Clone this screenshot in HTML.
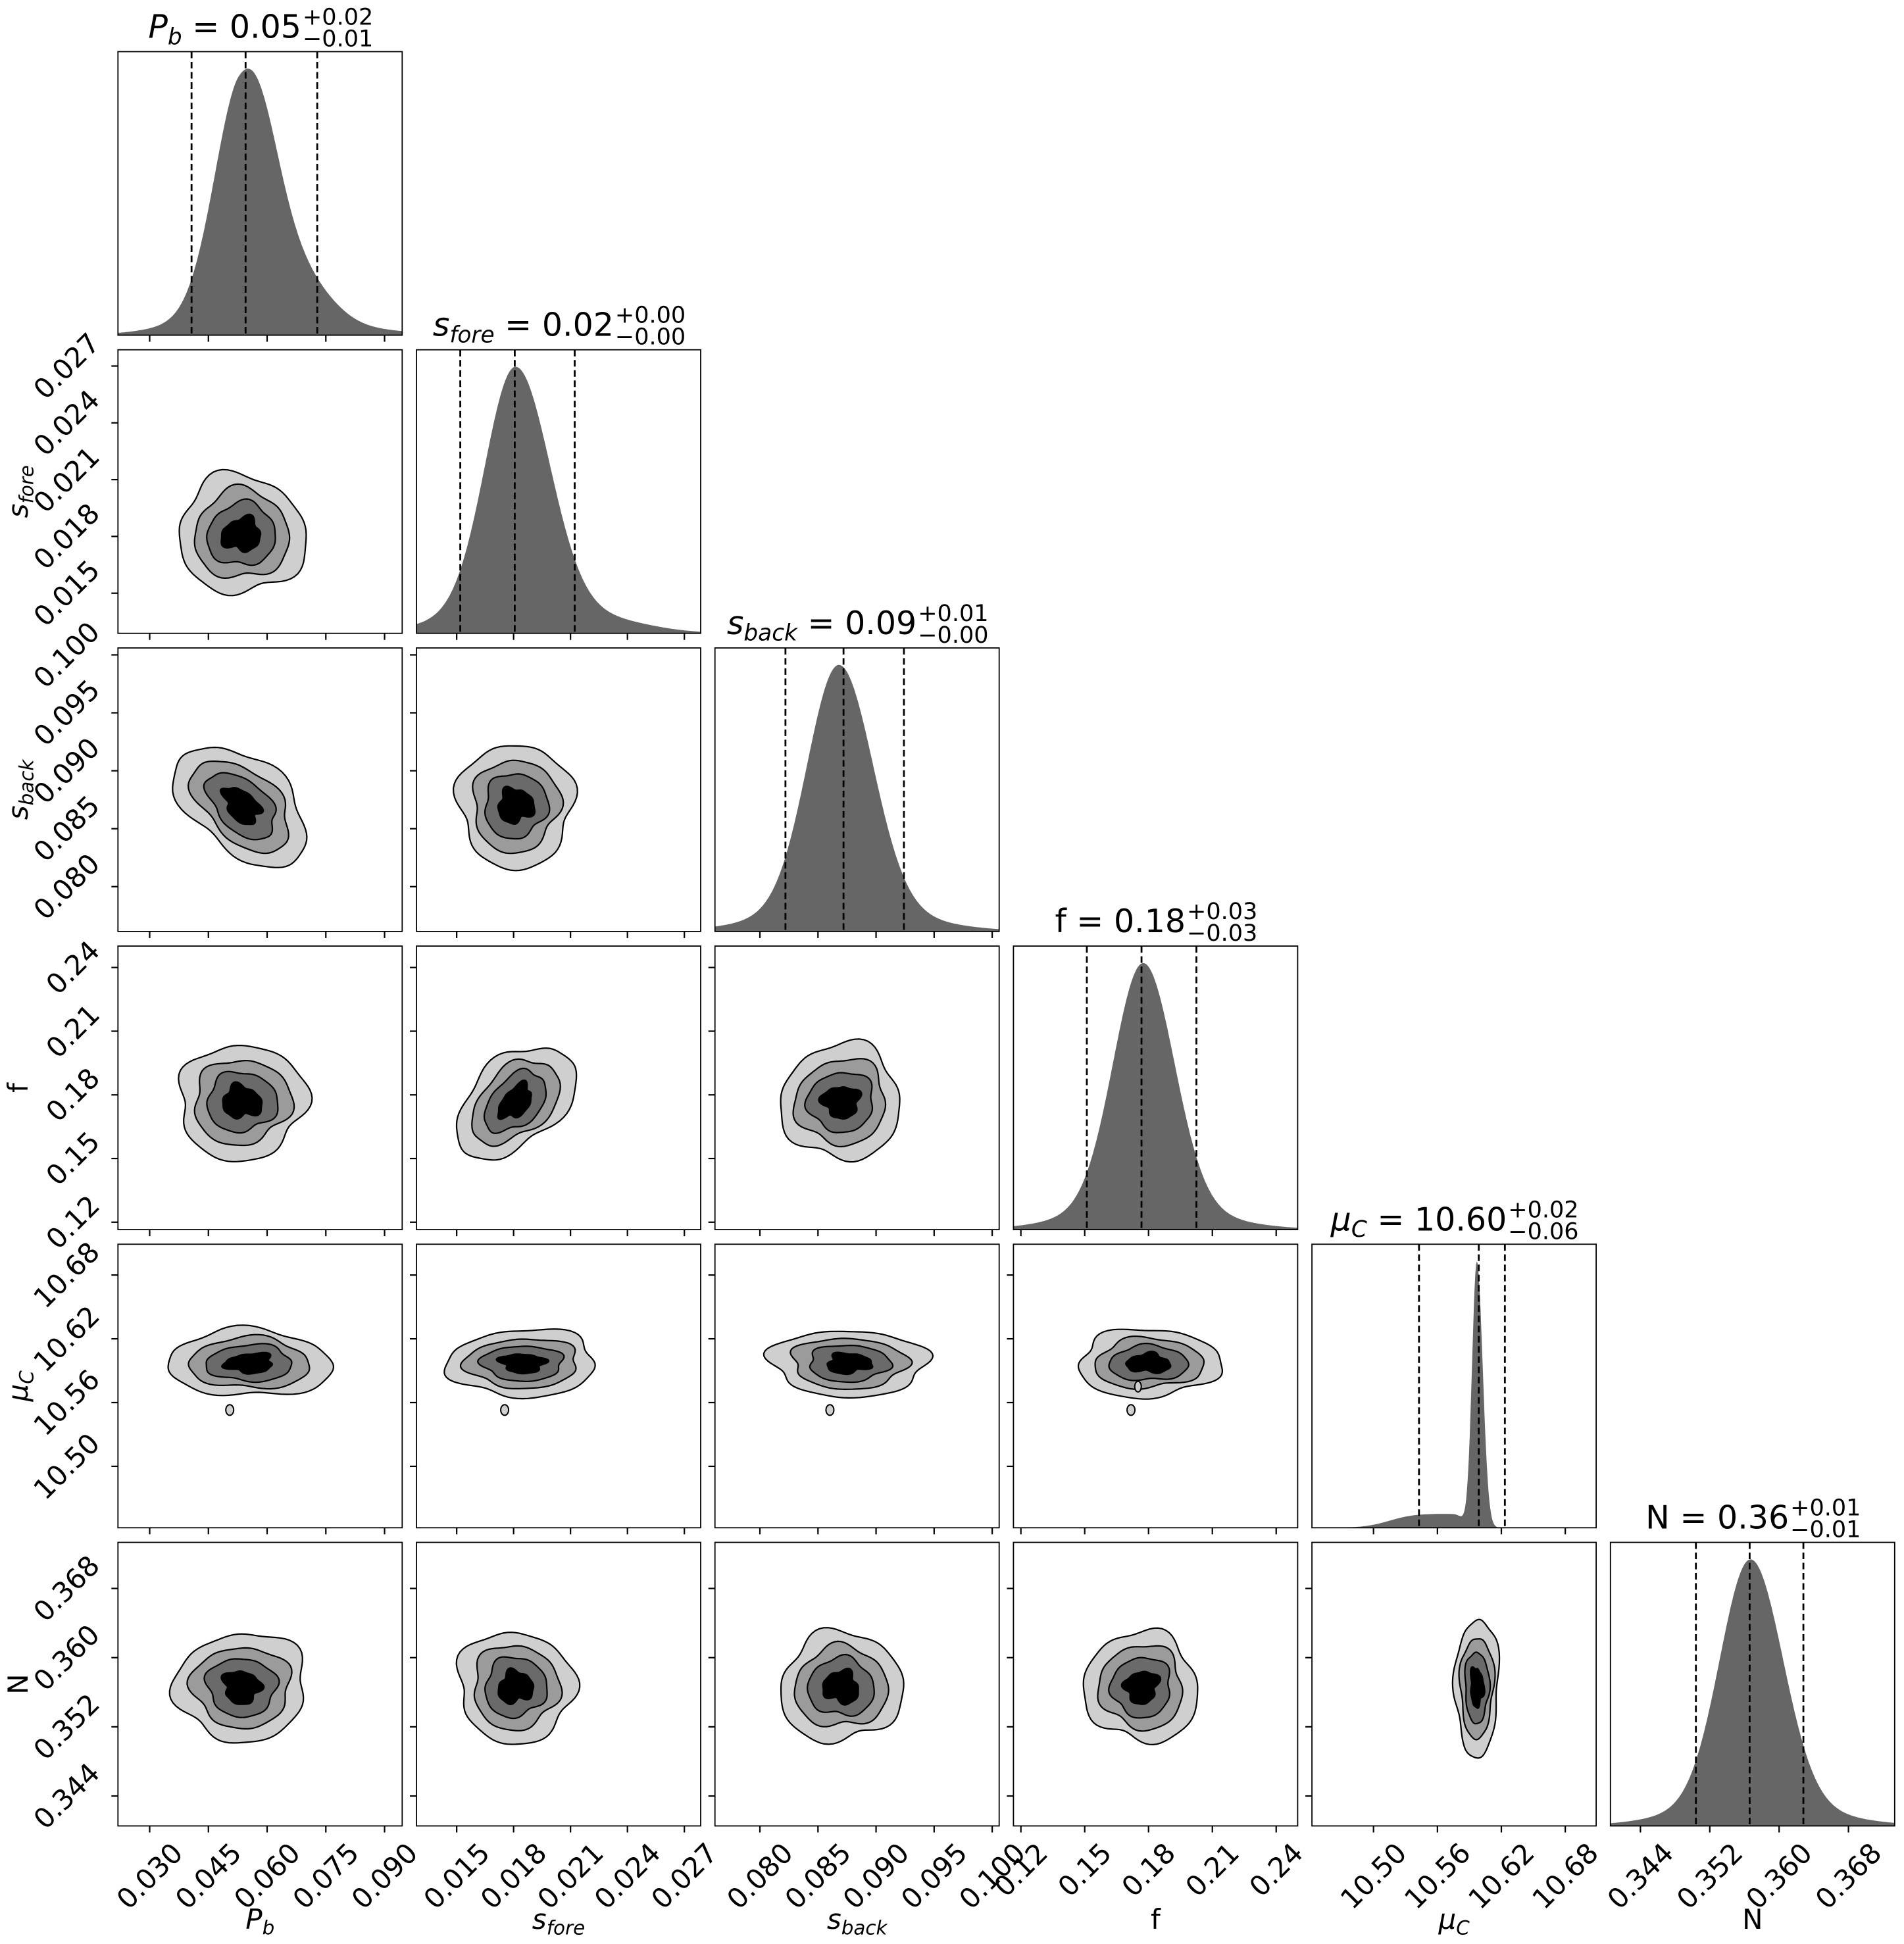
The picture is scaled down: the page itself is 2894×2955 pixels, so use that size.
<!DOCTYPE html>
<html><head><meta charset="utf-8">
<style>
html,body{margin:0;padding:0;background:#fff;}
svg{display:block;}
text{font-family:"DejaVu Sans","Liberation Sans",sans-serif;fill:#000;}
</style></head>
<body>
<svg id="s" xmlns="http://www.w3.org/2000/svg" width="2894" height="2955" viewBox="0 0 2894 2955"></svg>
<script>
(function(){
var NS="http://www.w3.org/2000/svg";
var S=document.getElementById('s');
function el(t,a,parent,txt){var e=document.createElementNS(NS,t);for(var k in a)e.setAttribute(k,a[k]);if(txt!==undefined)e.textContent=txt;(parent||S).appendChild(e);return e;}
var X0=179.3,DX=453.7,Y0=78.5,DY=453.2,W=432,H=431;
function G(x,m,s){return Math.exp(-0.5*(x-m)*(x-m)/(s*s));}
function SP(x,m,sl,sr){return G(x,m,x<m?sl:sr);}
function H2(x,m,sl,sr){return SP(x,m,sl,sr)+0.1*SP(x,m,sl*2.2,sr*2.2);}
var P=[
{min:0.0219,max:0.0945,ticks:[0.030,0.045,0.060,0.075,0.090],dec:3,m:0.0535,s:0.016,q:[0.0407,0.0545,0.0728],
 pdf:function(x){return H2(x,0.0527,0.0067,0.0105)+0.25*G(x,0.0575,0.005)+0.05*G(x,0.074,0.006);}},
{min:0.01288,max:0.02786,ticks:[0.015,0.018,0.021,0.024,0.027],dec:3,m:0.0181,s:0.003,q:[0.01519,0.01806,0.02122],
 pdf:function(x){return H2(x,0.0181,0.0016,0.0018)+0.02*G(x,0.0235,0.002);}},
{min:0.07613,max:0.1006,ticks:[0.080,0.085,0.090,0.095,0.100],dec:3,m:0.0870,s:0.0051,q:[0.0822,0.0872,0.0924],
 pdf:function(x){return H2(x,0.0868,0.0027,0.0029);}},
{min:0.1165,max:0.2501,ticks:[0.12,0.15,0.18,0.21,0.24],dec:2,m:0.1767,s:0.026,q:[0.151,0.1767,0.2025],
 pdf:function(x){return H2(x,0.1775,0.014,0.0145);}},
{min:10.4422,max:10.709,ticks:[10.50,10.56,10.62,10.68],dec:2,m:10.597,s:0.0192,q:[10.5427,10.5988,10.6233],
 pdf:function(x){return SP(x,10.597,0.0045,0.0055)+0.05*SP(x,10.575,0.035,0.01)+0.02*G(x,10.53,0.02);}},
{min:0.34054,max:0.37333,ticks:[0.344,0.352,0.360,0.368],dec:3,m:0.3566,s:0.0062,q:[0.3504,0.3566,0.3628],
 pdf:function(x){return H2(x,0.3567,0.0035,0.0037);}}
];
function L(i){return X0+i*DX;}
function T(j){return Y0+j*DY;}
function xv(i,v){var p=P[i];return L(i)+(v-p.min)/(p.max-p.min)*W;}
function yv(j,i,v){var p=P[i];return T(j)+H-(v-p.min)/(p.max-p.min)*H;}
var corr={"0,2":-0.45,"1,3":0.45};
var cols=["#cfcfcf","#9b9b9b","#6a6a6a","#000000"];
var radii=[1.03,0.77,0.55,0.3];
var clipId=0;
function blob(cx,cy,sx,sy,rho,r,seed,amp){
  var d="";for(var k=0;k<96;k++){var th=2*Math.PI*k/96;
    var w=1+amp*(0.06*Math.sin(3*th+seed)+0.045*Math.sin(5*th+2*seed)+0.03*Math.sin(7*th+3*seed)+0.025*Math.sin(2*th+seed*1.7));
    var u=r*w*Math.cos(th),v=r*w*Math.sin(th);
    var dx=sx*u,dy=sy*(rho*u+Math.sqrt(1-rho*rho)*v);
    d+=(k?"L":"M")+(cx+dx).toFixed(1)+","+(cy-dy).toFixed(1);}
  return d+"Z";}
var FS=42;
for(var j=0;j<6;j++){for(var i=0;i<=j;i++){
  var x0=L(i),y0=T(j);
  var cid="c"+(clipId++);
  var cp=el("clipPath",{id:cid});el("rect",{x:x0,y:y0,width:W,height:H},cp);
  var g=el("g",{"clip-path":"url(#"+cid+")"});
  if(i==j){
    var p=P[i],n=400,vals=[],mx=0;
    for(var k=0;k<=n;k++){var v=p.min+(p.max-p.min)*k/n;var y=p.pdf(v);vals.push(y);if(y>mx)mx=y;}
    var d="M"+x0+","+(y0+H);
    for(var k=0;k<=n;k++){d+="L"+(x0+W*k/n).toFixed(1)+","+(y0+H-vals[k]/mx*0.94*H).toFixed(1);}
    d+="L"+(x0+W)+","+(y0+H)+"Z";
    el("path",{d:d,fill:"#666666"},g);
    p.q.forEach(function(q){var xx=xv(i,q);el("line",{x1:xx,y1:y0,x2:xx,y2:y0+H,stroke:"#000","stroke-width":2.8,"stroke-dasharray":"10,5.5"},g);});
  } else {
    var px=P[i],py=P[j];
    var cx=xv(i,px.m),cy=yv(j,j,py.m);
    var sx=px.s/(px.max-px.min)*W,sy=py.s/(py.max-py.min)*H;
    if(j==4){sx*=1.27;cx+=0.1*sx;sy*=1.6;}
    if(i==4){sy*=1.24;sx=0.0155/(px.max-px.min)*W*1.3;}
    var rho=corr[i+","+j]||0;
    var seed=i*1.7+j*2.3;
    for(var r=0;r<4;r++){
      el("path",{d:blob(cx,cy,sx,sy,rho,radii[r],seed+r*0.6,r==3?2.0:1),fill:cols[r],stroke:"#000","stroke-width":2.2,"stroke-linejoin":"round"},g);
    }
    if(j==4){
      var iy=yv(4,4,10.553);
      el("ellipse",{cx:cx-0.25*sx,cy:iy,rx:6,ry:8,fill:cols[0],stroke:"#000","stroke-width":2},g);
      if(i==3)el("ellipse",{cx:cx-0.15*sx,cy:yv(4,4,10.575),rx:5,ry:8,fill:cols[0],stroke:"#000","stroke-width":2},g);
    }
  }
  el("rect",{x:x0,y:y0,width:W,height:H,fill:"none",stroke:"#000","stroke-width":1.8});
  P[i].ticks.forEach(function(t){var xx=xv(i,t);el("line",{x1:xx,y1:y0+H,x2:xx,y2:y0+H+10,stroke:"#000","stroke-width":2.2});
    if(j==5){
      var tx=el("text",{"font-size":FS,"text-anchor":"middle","dominant-baseline":"central"},S,t.toFixed(P[i].dec));
      var len=tx.getComputedTextLength();var hb=(len+FS*0.78)*0.7071;
      var cxx=xx,cyy=y0+H+22+hb/2;
      tx.setAttribute("x",cxx);tx.setAttribute("y",cyy);tx.setAttribute("transform","rotate(-45 "+cxx+" "+cyy+")");
    }});
  if(i<j){
    P[j].ticks.forEach(function(t){var yy=yv(j,j,t);el("line",{x1:x0-10,y1:yy,x2:x0,y2:yy,stroke:"#000","stroke-width":2.2});
      if(i==0){
        var tx=el("text",{"font-size":FS,"text-anchor":"middle","dominant-baseline":"central"},S,t.toFixed(P[j].dec));
        var len=tx.getComputedTextLength();var wb=(len+FS*0.78)*0.7071;
        var cxx=x0-24-wb/2,cyy=yy;
        tx.setAttribute("x",cxx);tx.setAttribute("y",cyy);tx.setAttribute("transform","rotate(-45 "+cxx+" "+cyy+")");
      }});
  }
}}
var titles=[
 {sym:["P","b"],val:"0.05",sup:"+0.02",sub:"\u22120.01"},
 {sym:["s","fore"],val:"0.02",sup:"+0.00",sub:"\u22120.00"},
 {sym:["s","back"],val:"0.09",sup:"+0.01",sub:"\u22120.00"},
 {plain:"f",val:"0.18",sup:"+0.03",sub:"\u22120.03"},
 {sym:["\u03bc","C"],val:"10.60",sup:"+0.02",sub:"\u22120.06"},
 {plain:"N",val:"0.36",sup:"+0.01",sub:"\u22120.01"}
];
function labelText(t,fs,parent,attrs){
  var tx=el("text",attrs,parent);tx.setAttribute("font-size",fs);
  if(t.sym){el("tspan",{"font-style":"italic"},tx,t.sym[0]);
    el("tspan",{"font-style":"italic","font-size":fs*0.7,dy:fs*0.2},tx,t.sym[1]);}
  else el("tspan",{},tx,t.plain);
  return tx;}
var TF=49;
titles.forEach(function(t,i){
  var base=T(i)-21;
  var tx=labelText(t,TF,S,{x:0,y:base});
  el("tspan",{"font-size":TF,dy:(t.sym?-TF*0.2:0)},tx," = "+t.val);
  var lm=tx.getComputedTextLength();
  var a=el("text",{"font-size":35,x:0,y:base-20},S,t.sup);
  var b=el("text",{"font-size":35,x:0,y:base+13},S,t.sub);
  var ls=Math.max(a.getComputedTextLength(),b.getComputedTextLength());
  var start=L(i)+W/2-(lm+ls)/2;
  tx.setAttribute("x",start);a.setAttribute("x",start+lm+2);b.setAttribute("x",start+lm+2);
});
titles.forEach(function(t,i){
  labelText(t,42,S,{x:L(i)+W/2,y:2932,"text-anchor":"middle"});
  if(i>0){
    var yc=T(i)+H/2;
    labelText(t,42,S,{x:42,y:yc,"text-anchor":"middle",transform:"rotate(-90 42 "+yc+")"});
  }
});
})();
</script>
</body></html>
